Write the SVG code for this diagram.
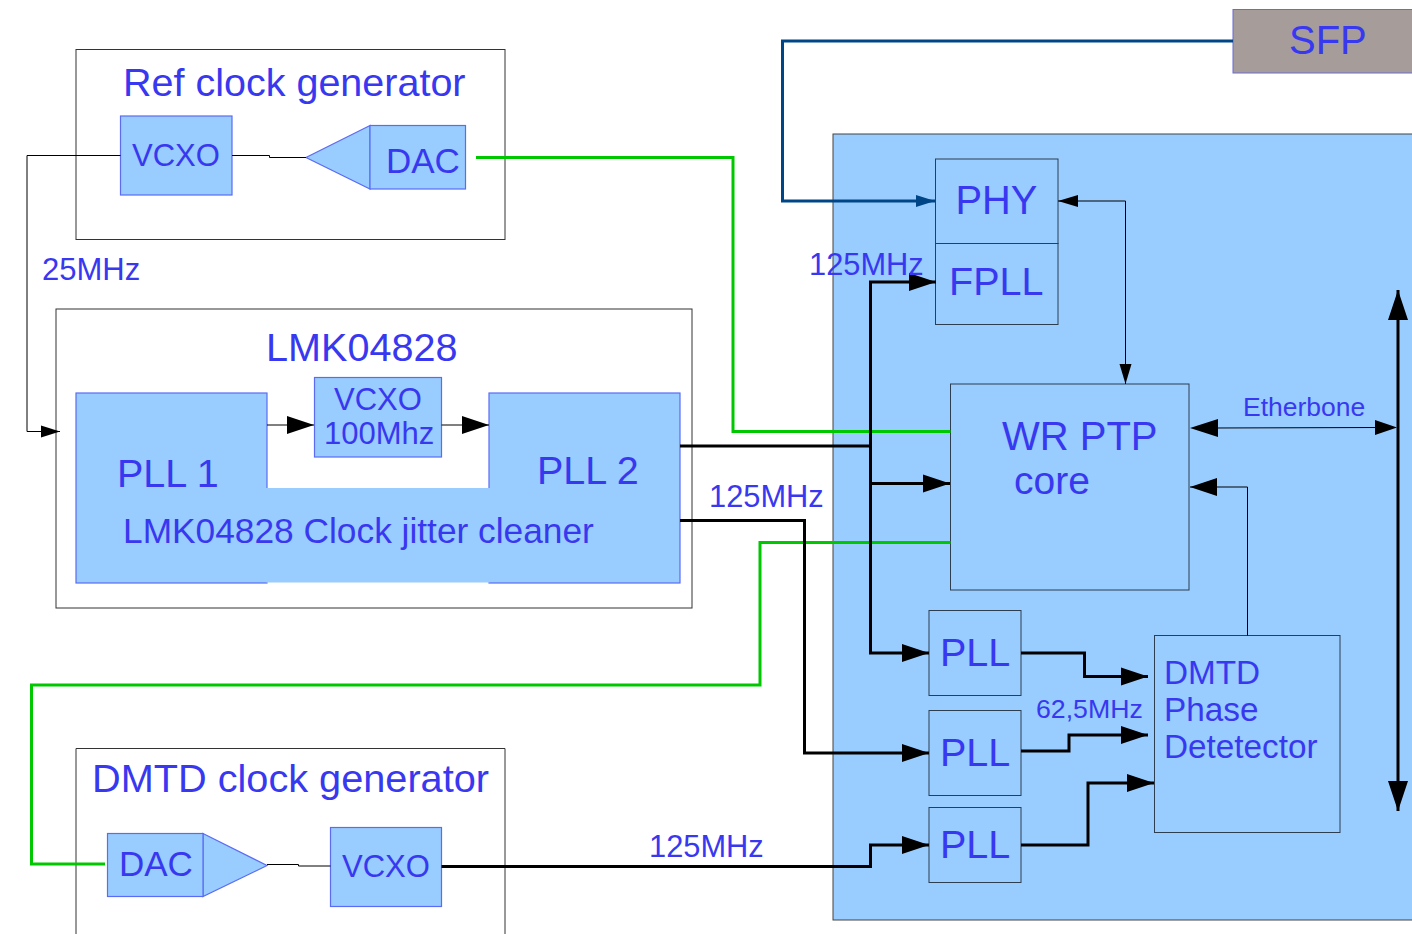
<svg xmlns="http://www.w3.org/2000/svg" width="1412" height="934" viewBox="0 0 1412 934">
<defs>
<style>
text{font-family:"Liberation Sans",Arial,sans-serif;fill:#3838f0}
.frame{fill:#fff;stroke:#333;stroke-width:1}
.blk{fill:#99ccff;stroke:#5a6cf5;stroke-width:1.2}
.dark{fill:#99ccff;stroke:#2c3e50;stroke-width:1}
.c{fill:none;stroke:#000;stroke-linejoin:miter}
.t1{stroke-width:1}
.t3{stroke-width:3}
.g{fill:none;stroke:#00c800;stroke-width:3}
.ah{fill:#000;stroke:none}
</style>
<marker id="big" markerUnits="userSpaceOnUse" markerWidth="28" markerHeight="20" refX="27" refY="9" orient="auto-start-reverse" viewBox="0 0 28 18"><path class="ah" d="M0,0L27,9L0,18Z"/></marker>
<marker id="bus" markerUnits="userSpaceOnUse" markerWidth="31" markerHeight="21" refX="30" refY="10" orient="auto-start-reverse" viewBox="0 0 31 20"><path class="ah" d="M0,0L30,10L0,20Z"/></marker>
<marker id="mid" markerUnits="userSpaceOnUse" markerWidth="21" markerHeight="14" refX="20" refY="6" orient="auto-start-reverse" viewBox="0 0 21 12"><path class="ah" d="M0,0L20,6L0,12Z"/></marker>
<marker id="sm" markerUnits="userSpaceOnUse" markerWidth="20" markerHeight="14" refX="19" refY="6" orient="auto-start-reverse" viewBox="0 0 20 12"><path class="ah" d="M0,0L19,6L0,12Z"/></marker>
<marker id="eb" markerUnits="userSpaceOnUse" markerWidth="23" markerHeight="16" refX="22" refY="7.500" orient="auto" viewBox="0 0 23 15"><path class="ah" d="M0,0L22,7.500L0,15Z"/></marker>
<marker id="blue" markerUnits="userSpaceOnUse" markerWidth="20" markerHeight="14" refX="19" refY="6" orient="auto" viewBox="0 0 20 12"><path fill="#004586" d="M0,0L19,6L0,12Z"/></marker>
</defs>
<g id="fpga-area"><rect x="833" y="134" width="600" height="786" fill="#99ccff" stroke="#444" stroke-width="1"/></g>
<g id="sfp"><rect x="1233" y="9.500" width="200" height="63.500" fill="#a69d9a" stroke="#6a6ad0" stroke-width="1"/><text x="1289" y="54" font-size="40">SFP</text></g>
<g id="ref-clock"><rect class="frame" x="76" y="49.500" width="429" height="190"/><text x="123" y="96" font-size="39.500">Ref clock generator</text></g>
<g id="lmk"><rect class="frame" x="56" y="309" width="636" height="299"/><text x="266" y="361" font-size="39.600">LMK04828</text></g>
<g id="dmtd-clock"><path class="frame" d="M76,945V748.500H505V945"/><text x="92" y="792" font-size="39.700">DMTD clock generator</text></g>

<g id="vcxo-ref"><rect class="blk" x="120.500" y="116" width="111.500" height="79"/><text x="132" y="166" font-size="31">VCXO</text></g>
<g id="dac-ref"><path class="blk" d="M370,125.500L306,157.500L370,189Z"/><rect class="blk" x="370" y="125.500" width="95.500" height="63.500"/><text x="386" y="173" font-size="35">DAC</text></g>
<g id="pll1"><rect class="blk" x="76" y="393" width="191" height="190"/><text x="117" y="487" font-size="39.500">PLL 1</text></g>
<g id="pll2"><rect class="blk" x="489" y="393" width="191" height="190"/><text x="537" y="484" font-size="39.500">PLL 2</text></g>
<g id="jitter"><rect x="266" y="488" width="224" height="94.500" fill="#99ccff"/><text x="123" y="543" font-size="35.300">LMK04828 Clock jitter cleaner</text></g>
<g id="vcxo-100"><rect class="blk" x="314.500" y="377.500" width="127" height="79.500"/><text x="334" y="410" font-size="31">VCXO</text><text x="324" y="444" font-size="31">100Mhz</text></g>
<g id="dac-dmtd"><path class="blk" d="M203,833.500L267,865.500L203,896.500Z"/><rect class="blk" x="107.500" y="833.500" width="95.500" height="63"/><text x="119" y="876" font-size="35">DAC</text></g>
<g id="vcxo-dmtd"><rect class="blk" x="330.500" y="827.500" width="111" height="79"/><text x="342" y="877" font-size="31">VCXO</text></g>
<g id="phy"><rect class="dark" x="935.500" y="159" width="122.500" height="84.500"/><text x="955.500" y="214" font-size="39.800">PHY</text></g>
<g id="fpll"><rect class="dark" x="935.500" y="243.500" width="122.500" height="81"/><text x="949" y="295" font-size="39.500">FPLL</text></g>
<g id="wr-ptp"><rect class="dark" x="950.500" y="384" width="238.500" height="206"/><text x="1002" y="449.500" font-size="40">WR PTP</text><text x="1014" y="494" font-size="39">core</text></g>
<g id="pll-a"><rect class="dark" x="929" y="610.500" width="92" height="85"/><text x="940" y="666" font-size="39.500">PLL</text></g>
<g id="pll-b"><rect class="dark" x="929" y="710.500" width="92" height="85"/><text x="940" y="766" font-size="39.500">PLL</text></g>
<g id="pll-c"><rect class="dark" x="929" y="807.500" width="92" height="75"/><text x="940" y="858" font-size="39.500">PLL</text></g>
<g id="dmtd-phase"><rect class="dark" x="1154.500" y="635.500" width="185.500" height="197"/><text x="1164" y="684" font-size="33.300">DMTD</text><text x="1164" y="721" font-size="33.300">Phase</text><text x="1164" y="758" font-size="33.300">Detetector</text></g>

<g id="connectors">
<path class="c t1" marker-end="url(#sm)" d="M120.500,155.500H27V431.500H60"/>
<path class="c t1" d="M232,155.500H269.500V157.500H306"/>
<path class="g" d="M476,157.500H733V431.500H950.500"/>
<path class="g" d="M950.500,542.500H760V685H31.500V864H105"/>
<path class="c t1" d="M267,864.500H298.500V866H330.500"/>
<path class="c t1" marker-end="url(#big)" d="M267,425H314"/>
<path class="c t1" marker-end="url(#big)" d="M441.500,425H489"/>
<path fill="none" stroke="#004586" stroke-width="3" marker-end="url(#blue)" d="M1233,41H782.500V201H935"/>
<path class="c t1" marker-start="url(#mid)" marker-end="url(#mid)" d="M1058,201H1125.500V384"/>
<path class="c t3" marker-end="url(#big)" d="M680,446H870.500V282H936"/>
<path class="c t3" marker-end="url(#big)" d="M870.500,446V483.500H950"/>
<path class="c t3" marker-end="url(#big)" d="M870.500,483V653H929"/>
<path class="c t3" marker-end="url(#big)" d="M680,520.500H804.500V753H929"/>
<path class="c t3" marker-end="url(#big)" d="M441.500,866.500H870.500V845H929"/>
<path class="c t3" marker-end="url(#big)" d="M1021,653H1084.500V676.500H1148"/>
<path class="c t3" marker-end="url(#big)" d="M1021,751H1069V735H1148"/>
<path class="c t3" marker-end="url(#big)" d="M1021,845H1088V783H1154"/>
<path class="c t1" stroke="#3a5a7a" marker-end="url(#big)" d="M1247.500,635.500V487H1190"/>
<path class="c t1" d="M1212,428L1380,427.500"/>
<path class="ah" d="M1190,428L1218,419V437Z"/>
<path class="ah" d="M1397,427.500L1375,420V435Z"/>
<path class="c t3" marker-start="url(#bus)" marker-end="url(#bus)" d="M1398,290V811"/>
</g>
<g id="labels">
<text x="42" y="279.500" font-size="31">25MHz</text>
<text x="809" y="275" font-size="30.800">125MHz</text>
<text x="709" y="507" font-size="30.800">125MHz</text>
<text x="649" y="857" font-size="30.800">125MHz</text>
<text x="1036" y="718" font-size="26.700">62,5MHz</text>
<text x="1243" y="416" font-size="26.500">Etherbone</text>
</g>
</svg>
